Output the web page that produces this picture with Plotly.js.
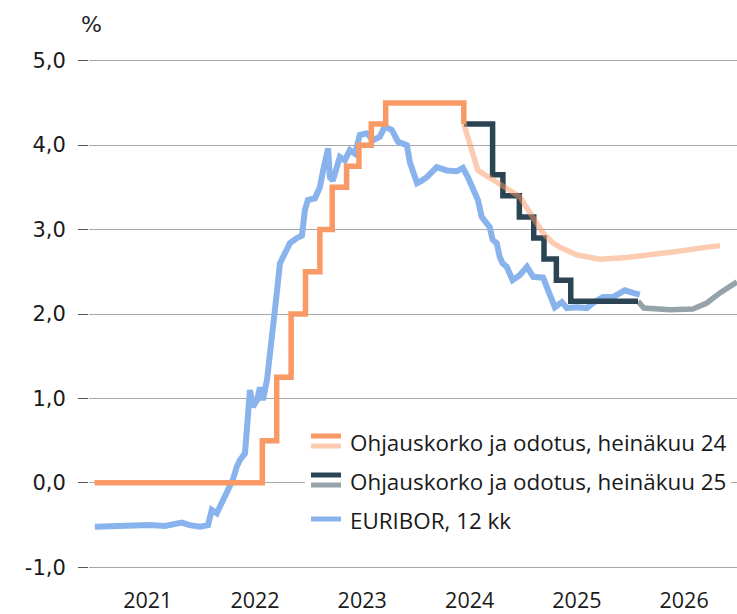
<!DOCTYPE html>
<html>
<head>
<meta charset="utf-8">
<script src="https://cdn.plot.ly/plotly-3.0.1.min.js"></script>
<style>
  html, body { margin: 0; padding: 0; background: #ffffff; }
  #chart { width: 737px; height: 614px; }
</style>
</head>
<body>
<div id="chart"></div>
<script>
// ---------- data ----------
const years = ['2021', '2022', '2023', '2024', '2025', '2026'];
const yTickVals = [-1, 0, 1, 2, 3, 4, 5];
const yTickText = ['-1,0', '0,0', '1,0', '2,0', '3,0', '4,0', '5,0'];

const seriesNames = [
  'Ohjauskorko ja odotus, heinäkuu 24',
  'Ohjauskorko ja odotus, heinäkuu 25',
  'EURIBOR, 12 kk'
];

// policy rate, realised (July 24 vintage)
const rate24Dates = ['2021-01-02', '2022-07-27', '2022-09-14', '2022-11-02', '2022-12-21', '2023-02-08',
  '2023-03-22', '2023-05-10', '2023-06-21', '2023-08-02', '2023-09-20', '2024-06-12'];
const rate24Values = [0, 0.5, 1.25, 2.0, 2.5, 3.0, 3.5, 3.75, 4.0, 4.25, 4.5, 4.25];

// expectation, July 24
const expect24Dates = ['2024-06-12', '2024-07-30', '2024-10-12', '2024-12-19', '2025-01-30', '2025-03-09',
  '2025-04-08', '2025-05-05', '2025-07-02', '2025-09-18', '2025-12-19', '2026-03-18', '2026-06-07',
  '2026-08-25', '2026-11-01'];
const expect24Values = [4.25, 3.70, 3.54, 3.39, 3.16, 2.96, 2.85, 2.79, 2.70, 2.65, 2.67, 2.70, 2.74, 2.78, 2.81];

// policy rate, realised (July 25 vintage)
const rate25Dates = ['2024-06-12', '2024-09-18', '2024-10-23', '2024-12-18', '2025-02-05', '2025-03-12',
  '2025-04-23', '2025-06-11', '2026-01-26'];
const rate25Values = [4.25, 3.65, 3.40, 3.15, 2.90, 2.65, 2.40, 2.15, 2.15];

// expectation, July 25
const expect25Dates = ['2026-01-26', '2026-02-15', '2026-05-15', '2026-08-01', '2026-09-17', '2026-11-01', '2026-12-29'];
const expect25Values = [2.15, 2.07, 2.05, 2.06, 2.13, 2.25, 2.38];

// EURIBOR 12 months
const euriborDates = ['2021-01-03','2021-02-23','2021-05-02','2021-07-09','2021-08-29','2021-10-26','2021-11-22',
  '2021-12-26','2022-01-23','2022-02-05','2022-02-22','2022-03-11','2022-04-01','2022-04-18','2022-05-01',
  '2022-05-12','2022-05-29','2022-06-08','2022-06-15','2022-06-25','2022-07-09','2022-07-19','2022-07-29',
  '2022-08-12','2022-08-22','2022-08-29','2022-09-08','2022-09-18','2022-09-25','2022-10-12','2022-10-29',
  '2022-11-22','2022-12-09','2022-12-19','2022-12-29','2023-01-22','2023-02-08','2023-02-19','2023-03-08',
  '2023-03-14','2023-03-24','2023-04-17','2023-05-04','2023-05-21','2023-06-07','2023-06-24','2023-07-18',
  '2023-08-08','2023-08-31','2023-09-17','2023-10-11','2023-11-01','2023-11-18','2023-12-01','2023-12-12',
  '2024-01-05','2024-01-21','2024-02-07','2024-03-12','2024-04-15','2024-05-19','2024-06-09','2024-06-26',
  '2024-07-13','2024-07-30','2024-08-12','2024-08-29','2024-09-08','2024-09-18','2024-10-02','2024-10-12',
  '2024-10-22','2024-11-05','2024-11-25','2024-12-19','2025-01-13','2025-02-03','2025-03-09','2025-03-26',
  '2025-04-18','2025-05-12','2025-05-29','2025-07-02','2025-08-05','2025-08-26','2025-09-29','2025-11-02',
  '2025-12-12','2026-01-09','2026-02-01'];
const euriborValues = [-0.52,-0.51,-0.50,-0.50,-0.51,-0.47,-0.50,
  -0.52,-0.50,-0.32,-0.36,-0.24,-0.08,0.04,0.19,
  0.27,0.35,0.75,1.10,0.90,0.98,1.13,0.98,
  1.22,1.57,1.85,2.05,2.37,2.60,2.72,2.84,
  2.90,2.93,3.23,3.35,3.37,3.50,3.70,3.96,
  3.62,3.58,3.86,3.82,3.94,3.90,4.12,4.14,
  4.06,4.10,4.22,4.18,4.04,4.02,4.00,3.79,
  3.55,3.58,3.62,3.74,3.70,3.69,3.73,3.62,
  3.50,3.35,3.15,3.07,3.03,2.88,2.84,2.68,
  2.60,2.56,2.40,2.46,2.56,2.44,2.43,2.28,
  2.08,2.14,2.07,2.08,2.07,2.13,2.20,2.20,
  2.28,2.25,2.23];

// ---------- styling ----------
const C_ORANGE = '#F99A66';
const C_ORANGE_LIGHT = 'rgba(249,154,102,0.5)';
const C_DARK = '#2B4454';
const C_GREY = '#96A3AB';
const C_BLUE = '#89B3EC';
const LW = 5.5;

const W = 737, H = 614;
const M = { l: 89, r: 0, t: 59, b: 45 };
const PW = W - M.l - M.r, PH = H - M.t - M.b;
const px = x => (x - M.l) / PW;          // pixel -> paper x (legend placement only)
const py = y => (M.t + PH - y) / PH;     // pixel -> paper y

const traces = [
  { x: euriborDates, y: euriborValues, type: 'scatter', mode: 'lines',
    line: { color: C_BLUE, width: 6 }, name: seriesNames[2] },
  { x: expect25Dates, y: expect25Values, type: 'scatter', mode: 'lines',
    line: { color: C_GREY, width: LW }, name: seriesNames[1] },
  { x: rate25Dates, y: rate25Values, type: 'scatter', mode: 'lines',
    line: { color: C_DARK, width: LW, shape: 'hv' }, name: seriesNames[1] },
  { x: rate24Dates, y: rate24Values, type: 'scatter', mode: 'lines',
    line: { color: C_ORANGE, width: LW, shape: 'hv' }, name: seriesNames[0] },
  { x: expect24Dates, y: expect24Values, type: 'scatter', mode: 'lines',
    line: { color: C_ORANGE_LIGHT, width: LW }, name: seriesNames[0] }
];

// custom two-tone legend
const sw0 = 311, sw1 = 341, tx = 348;
const legendRows = [
  { y: 441, colors: [C_ORANGE, '#FCCBB1'] },
  { y: 480, colors: [C_DARK, C_GREY] },
  { y: 519, colors: [C_BLUE] }
];
const shapes = [
  { type: 'rect', xref: 'paper', yref: 'paper', layer: 'above',
    x0: px(305), x1: px(731), y0: py(534), y1: py(422),
    fillcolor: '#ffffff', line: { width: 0 } }
];
const annotations = [
  { xref: 'paper', yref: 'paper', x: 0, y: 1, xshift: 2, yshift: 35,
    xanchor: 'center', yanchor: 'middle', showarrow: false, text: '%',
    font: { family: 'DejaVu Sans', size: 22, color: '#222' } }
];
legendRows.forEach((r, i) => {
  if (r.colors.length === 2) {
    shapes.push({ type: 'line', xref: 'paper', yref: 'paper', layer: 'above',
      x0: px(sw0), x1: px(sw1), y0: py(r.y - 5), y1: py(r.y - 5), line: { color: r.colors[0], width: 5 } });
    shapes.push({ type: 'line', xref: 'paper', yref: 'paper', layer: 'above',
      x0: px(sw0), x1: px(sw1), y0: py(r.y + 5), y1: py(r.y + 5), line: { color: r.colors[1], width: 5 } });
  } else {
    shapes.push({ type: 'line', xref: 'paper', yref: 'paper', layer: 'above',
      x0: px(sw0), x1: px(sw1), y0: py(r.y), y1: py(r.y), line: { color: r.colors[0], width: 5 } });
  }
  annotations.push({ xref: 'paper', yref: 'paper', x: px(tx), y: py(r.y + 1),
    xanchor: 'left', yanchor: 'middle', showarrow: false, text: seriesNames[i],
    font: { family: 'Open Sans', size: 22.4, color: '#1a1a1a' } });
});

const layout = {
  width: W, height: H,
  margin: M,
  paper_bgcolor: '#ffffff', plot_bgcolor: '#ffffff',
  showlegend: false,
  xaxis: {
    type: 'date',
    range: ['2020-12-14', '2026-12-29'],
    tickvals: years.map(y => y + '-07-02'),
    ticktext: years,
    ticks: '', showgrid: false, zeroline: false, showline: false,
    ticklabelstandoff: 16,
    tickfont: { family: 'Open Sans', size: 21.5, color: '#1a1a1a' }
  },
  yaxis: {
    range: [-1.02, 5.02],
    tickvals: yTickVals, ticktext: yTickText,
    ticks: 'outside', ticklen: 10, tickwidth: 1, tickcolor: '#555',
    ticklabelstandoff: 8,
    showgrid: true, gridcolor: '#a8a8a8', gridwidth: 1,
    zeroline: false, showline: false,
    tickfont: { family: 'DejaVu Sans', size: 21, color: '#1a1a1a' }
  },
  shapes: shapes,
  annotations: annotations
};

Plotly.newPlot('chart', traces, layout, { staticPlot: true, displayModeBar: false });
</script>
</body>
</html>
